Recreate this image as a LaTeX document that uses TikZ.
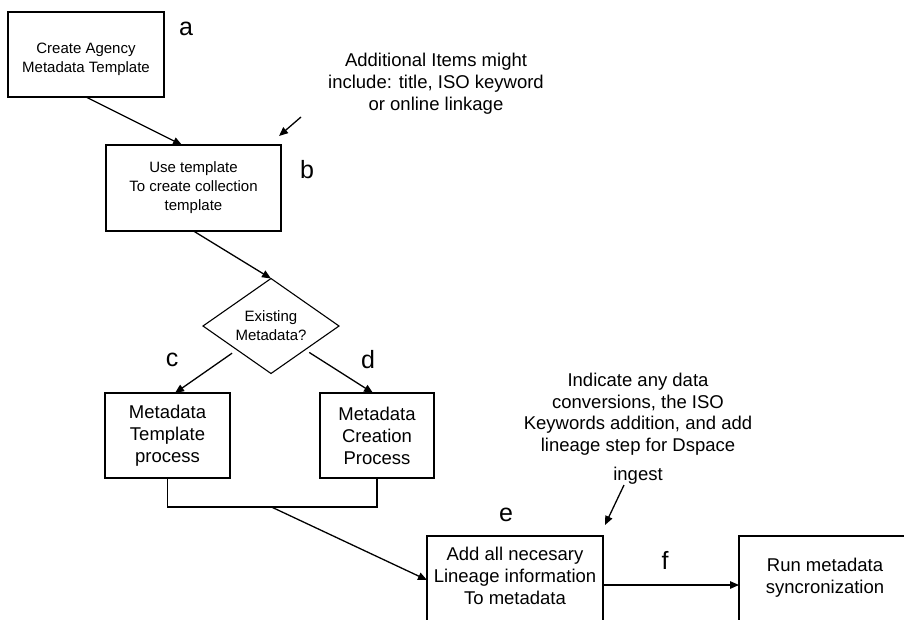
\documentclass[tikz,border=0pt]{standalone}
\usepackage{fontspec}
\setmainfont{Liberation Sans}
\usetikzlibrary{arrows.meta,shapes.geometric}

\begin{document}
\begin{tikzpicture}[x=1pt,y=-1pt,
  every node/.style={inner sep=0pt, outer sep=0pt},
  box/.style={draw, line width=1.1pt, align=center},
  small/.style={font=\fontsize{15}{19}\selectfont},
  big/.style={font=\fontsize{18.5}{22}\selectfont},
  tag/.style={font=\fontsize{25}{30}\selectfont},
  flow/.style={line width=1.3pt, -{Triangle[length=9pt,width=7.5pt]}},
  plain/.style={line width=1.1pt}
]
\useasboundingbox (0,0) rectangle (904,619);
\clip (0,0) rectangle (904,619);

% process boxes
\node[box, small, minimum width=156pt, minimum height=85pt] (a) at (86,54.5)
  {\rule{0pt}{21pt}Create Agency\\Metadata Template};
\node[box, small, minimum width=175pt, minimum height=86pt] (b) at (193.5,188)
  {Use template\\To create collection\\template};
\node[draw, line width=1.1pt, diamond, aspect=1.43, small, align=center,
      minimum width=136pt, minimum height=95pt] (dia) at (271,326)
  {Existing\\Metadata?};
\node[box, big, minimum width=125pt, minimum height=85pt] (c) at (167.5,435.5)
  {Metadata\\Template\\process};
\node[box, big, minimum width=114pt, minimum height=85pt] (d) at (377,435.5)
  {Metadata\\Creation\\Process};
% the last two boxes run past the lower edge
\node[box, big, minimum width=176pt, minimum height=100pt] (e) at (515,586)
  {Add all necesary\\Lineage information\\To metadata\rule[-20pt]{0pt}{20pt}};
\node[box, big, minimum width=172pt, minimum height=100pt] (f) at (825,586)
  {Run metadata\\syncronization\rule[-20pt]{0pt}{20pt}};

% notes
\node[big, align=center] (note1) at (436,84)
  {Additional Items might\\include: title, ISO keyword\\or online linkage};
\node[align=center, anchor=north, font=\fontsize{18.5}{21.7}\selectfont] (note2) at (638,373)
  {Indicate any data\\conversions, the ISO\\Keywords addition, and add\\lineage step for Dspace\\[7pt]ingest};

% step letters
\node[tag] (la) at (186,29) {a};
\node[tag] (lb) at (307,170) {b};
\node[tag] (lc) at (172,360) {c};
\node[tag] (ld) at (368,360) {d};
\node[tag] (le) at (506,515) {e};
\node[tag] (lf) at (665,560) {f};

% helper points
\coordinate (j) at (271.5,507);
\coordinate (t1) at (301,117);
\coordinate (t2) at (624,485);

% connectors
\draw[flow] (a.south) -- ([xshift=-11.5pt]b.north);
\draw[flow] (b.south) -- (dia.north);
\draw[flow, shorten <=6pt] (dia.south west) -- ([xshift=7.5pt]c.north);
\draw[flow, shorten <=5pt] (dia.south east) -- ([xshift=-4pt]d.north);
\draw[plain] (c.south) |- (j) -| (d.south);
\draw[flow] (j) -- ([yshift=6pt]e.west);
\draw[flow] ([yshift=1pt]e.east) -- ([yshift=1pt]f.west);
\draw[flow] (t1) -- ([xshift=-2pt,yshift=9pt]b.north east);
\draw[flow] (t2) -- ([xshift=2pt,yshift=11pt]e.north east);
\end{tikzpicture}
\end{document}
